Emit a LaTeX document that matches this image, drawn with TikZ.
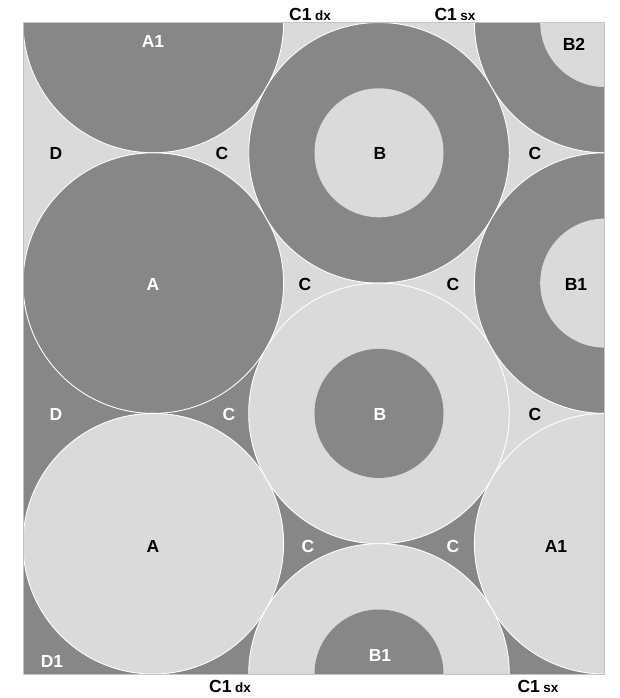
\documentclass[tikz,border=0pt]{standalone}
\usepackage{fontspec}
\setmainfont{Liberation Sans}
\definecolor{fillLight}{HTML}{DADADA}
\definecolor{fillDark}{HTML}{878787}
\definecolor{edgeGrey}{HTML}{C4C4C4}
\newcommand{\sublbl}[2]{#1\hspace{3.5pt}{\fontsize{13.5}{13.5}\selectfont #2}}

\begin{document}
\begin{tikzpicture}[
    x=1pt, y=-1pt,
    rim/.style={draw=white, line width=0.9pt},
    lbl/.style={font=\bfseries\fontsize{17.5}{17.5}\selectfont, inner sep=0pt},
    lblw/.style={lbl, text=white}
]
\useasboundingbox (0,0) rectangle (620,698);
\begin{scope}
\clip (23,22.5) rectangle (604.7,674);
\fill[fillDark] (23,22.5) rectangle (604.7,674);
\fill[fillLight] (23,22.5) -- (604.7,22.5) -- (604.7,543.7) -- (379,413.4)
    -- (153.3,283.1) -- (23,283.1) -- cycle;
% left column
\draw[rim, fill=fillDark] (153.3,22.5) circle (130.3pt);
\draw[rim, fill=fillDark] (153.3,283.1) circle (130.3pt);
\draw[rim, fill=fillLight] (153.3,543.7) circle (130.3pt);
% middle column
\draw[rim, fill=fillDark] (379,152.8) circle (130.3pt);
\fill[fillLight] (379,152.8) circle (64.5pt);
\draw[rim, fill=fillLight] (379,413.4) circle (130.3pt);
\fill[fillDark] (379,413.4) circle (64.5pt);
\draw[rim, fill=fillLight] (379,674) circle (130.3pt);
\fill[fillDark] (379,674) circle (64.5pt);
% right column
\draw[rim, fill=fillDark] (604.7,22.5) circle (130.3pt);
\fill[fillLight] (604.7,22.5) circle (64.5pt);
\draw[rim, fill=fillDark] (604.7,283.1) circle (130.3pt);
\fill[fillLight] (604.7,283.1) circle (64.5pt);
\draw[rim, fill=fillLight] (604.7,543.7) circle (130.3pt);
\end{scope}
\draw[edgeGrey, line width=0.6pt] (23,22.5) rectangle (604.7,674);

% labels, top row
\node[lblw] (a1top) at (153,41) {A1};
\node[lbl] (b2) at (574,44) {B2};
\node[lbl] (c1dxtop) at (310,14) {\sublbl{C1}{dx}};
\node[lbl] (c1sxtop) at (455,14) {\sublbl{C1}{sx}};
\node[lbl] (dtop) at (56,153) {D};
\node[lbl] (cul) at (222,153) {C};
\node[lbl] (btop) at (380,153) {B};
\node[lbl] (cur) at (535,153) {C};
% middle row
\node[lblw] (amid) at (153,284) {A};
\node[lbl] (cml) at (305,284) {C};
\node[lbl] (cmr) at (453,284) {C};
\node[lbl] (b1right) at (576,284) {B1};
\node[lblw] (dmid) at (56,414) {D};
\node[lblw] (cll) at (229,414) {C};
\node[lblw] (bmid) at (380,414) {B};
\node[lbl] (clr) at (535,414) {C};
% bottom row
\node[lbl] (abot) at (153,546) {A};
\node[lblw] (cbl) at (308,546) {C};
\node[lblw] (cbr) at (453,546) {C};
\node[lbl] (a1right) at (556,546) {A1};
\node[lblw] (d1) at (52,661) {D1};
\node[lblw] (b1bot) at (380,655) {B1};
\node[lbl] (c1dxbot) at (230,686) {\sublbl{C1}{dx}};
\node[lbl] (c1sxbot) at (538,686) {\sublbl{C1}{sx}};
\end{tikzpicture}
\end{document}
